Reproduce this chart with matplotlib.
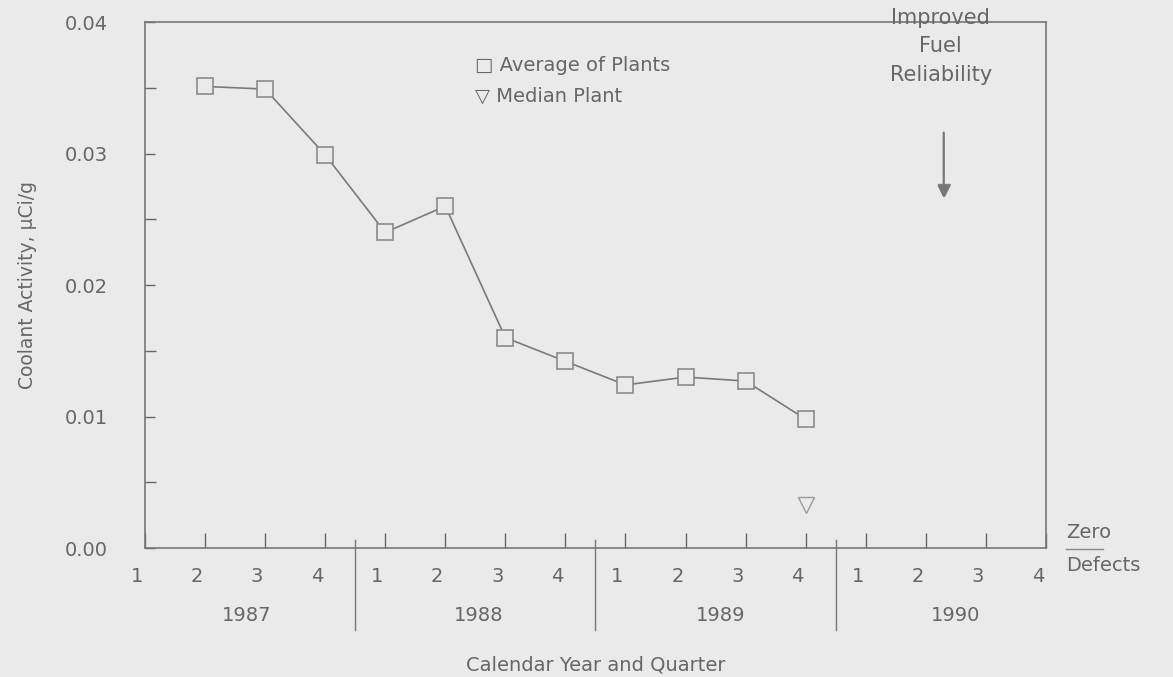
import matplotlib.pyplot as plt
import matplotlib.transforms as mtransforms

plt.rcParams['font.family'] = ['DejaVu Sans']

# quarters 1987 Q1 .. 1990 Q4 -> index 0..15
quarter_labels = ['1', '2', '3', '4'] * 4
years = ['1987', '1988', '1989', '1990']
year_pos = [1.7, 5.55, 9.58, 13.5]

# average of plants, 1987 Q2 .. 1989 Q4
avg_idx = [1, 2, 3, 4, 5, 6, 7, 8, 9, 10, 11]
avg_val = [0.0351, 0.0349, 0.0299, 0.0240, 0.0260, 0.0160, 0.0142, 0.0124, 0.0130, 0.0127, 0.0098]

# median plant
med_idx = [11]
med_val = [0.0033]

# improved fuel reliability target
target_idx = 13.3
target_val = 0.0272

bg = '#eaeaea'
ink = '#666666'
fs = 14

fig = plt.figure(figsize=(11.73, 6.77), dpi=100, facecolor=bg)
ax = fig.add_axes([0.1236, 0.1905, 0.768, 0.777], facecolor=bg)

ax.plot(avg_idx, avg_val, color='#7a7a7a', lw=1.2, marker='s', ms=11,
        mfc=bg, mec='#8a8a8a', mew=1.2)
ax.plot(med_idx, med_val, ls='none', marker='v', ms=11, mfc='none',
        mec='#9a9a9a', mew=1.0)

ax.set_xlim(0, 15)
ax.set_ylim(0, 0.04)

ax.set_xticks(range(16))
ax.set_xticklabels(quarter_labels)
ax.set_yticks([0.0, 0.01, 0.02, 0.03, 0.04])
ax.set_yticklabels(['0.00', '0.01', '0.02', '0.03', '0.04'])
ax.set_yticks([0.005, 0.015, 0.025, 0.035], minor=True)
ax.tick_params(axis='both', which='both', direction='in', colors=ink, labelsize=fs, width=1)
ax.tick_params(axis='x', length=11, pad=14)
ax.tick_params(axis='y', which='major', length=7, pad=27)
ax.tick_params(axis='y', which='minor', length=8, width=1)
for lab in ax.get_xticklabels():
    lab.set_transform(lab.get_transform() + mtransforms.ScaledTranslation(-8 / 100, 0, fig.dpi_scale_trans))

for s in ax.spines.values():
    s.set_color('#777777')
    s.set_linewidth(1.2)

# year separators and labels
trans = mtransforms.blended_transform_factory(ax.transData, ax.transAxes)
for xs in [3.5, 7.5, 11.5]:
    ax.plot([xs, xs], [-0.155, 0.015], transform=trans, color='#777777', lw=1.0, clip_on=False)
for yp, yr in zip(year_pos, years):
    ax.text(yp, -0.128, yr, transform=trans, ha='center', va='center',
            color=ink, fontsize=fs)

ax.set_xlabel('Calendar Year and Quarter', color=ink, fontsize=fs, labelpad=50)
ax.set_ylabel('Coolant Activity, \u00b5Ci/g', color=ink, fontsize=13.5, labelpad=20)

# legend
ax.text(5.5, 0.0367, '\u25a1 Average of Plants', color=ink, fontsize=14, va='center')
ax.text(5.5, 0.0344, '\u25bd Median Plant', color=ink, fontsize=14, va='center')

# improved fuel reliability annotation
ax.text(target_idx - 0.05, 0.0411, 'Improved\nFuel\nReliability', ha='center', va='top',
        color=ink, fontsize=15, linespacing=1.55, clip_on=False)
ax.annotate('', xy=(target_idx, target_val - 0.0008), xytext=(target_idx, 0.0318),
            arrowprops=dict(arrowstyle='-|>', color='#777777', lw=1.6, mutation_scale=18))
ax.plot([target_idx], [target_val], ls='none', marker='v', ms=9, mfc='none', mec='#888888')

# zero defects label
ax.text(15.33, 0.0012, 'Zero', color=ink, fontsize=fs, va='center', ha='left')
ax.plot([15.33, 15.95], [-0.0001, -0.0001], color='#888888', lw=1.0, clip_on=False)
ax.text(15.33, -0.0013, 'Defects', color=ink, fontsize=fs, va='center', ha='left')

plt.savefig('out.png', dpi=100, facecolor=bg)
